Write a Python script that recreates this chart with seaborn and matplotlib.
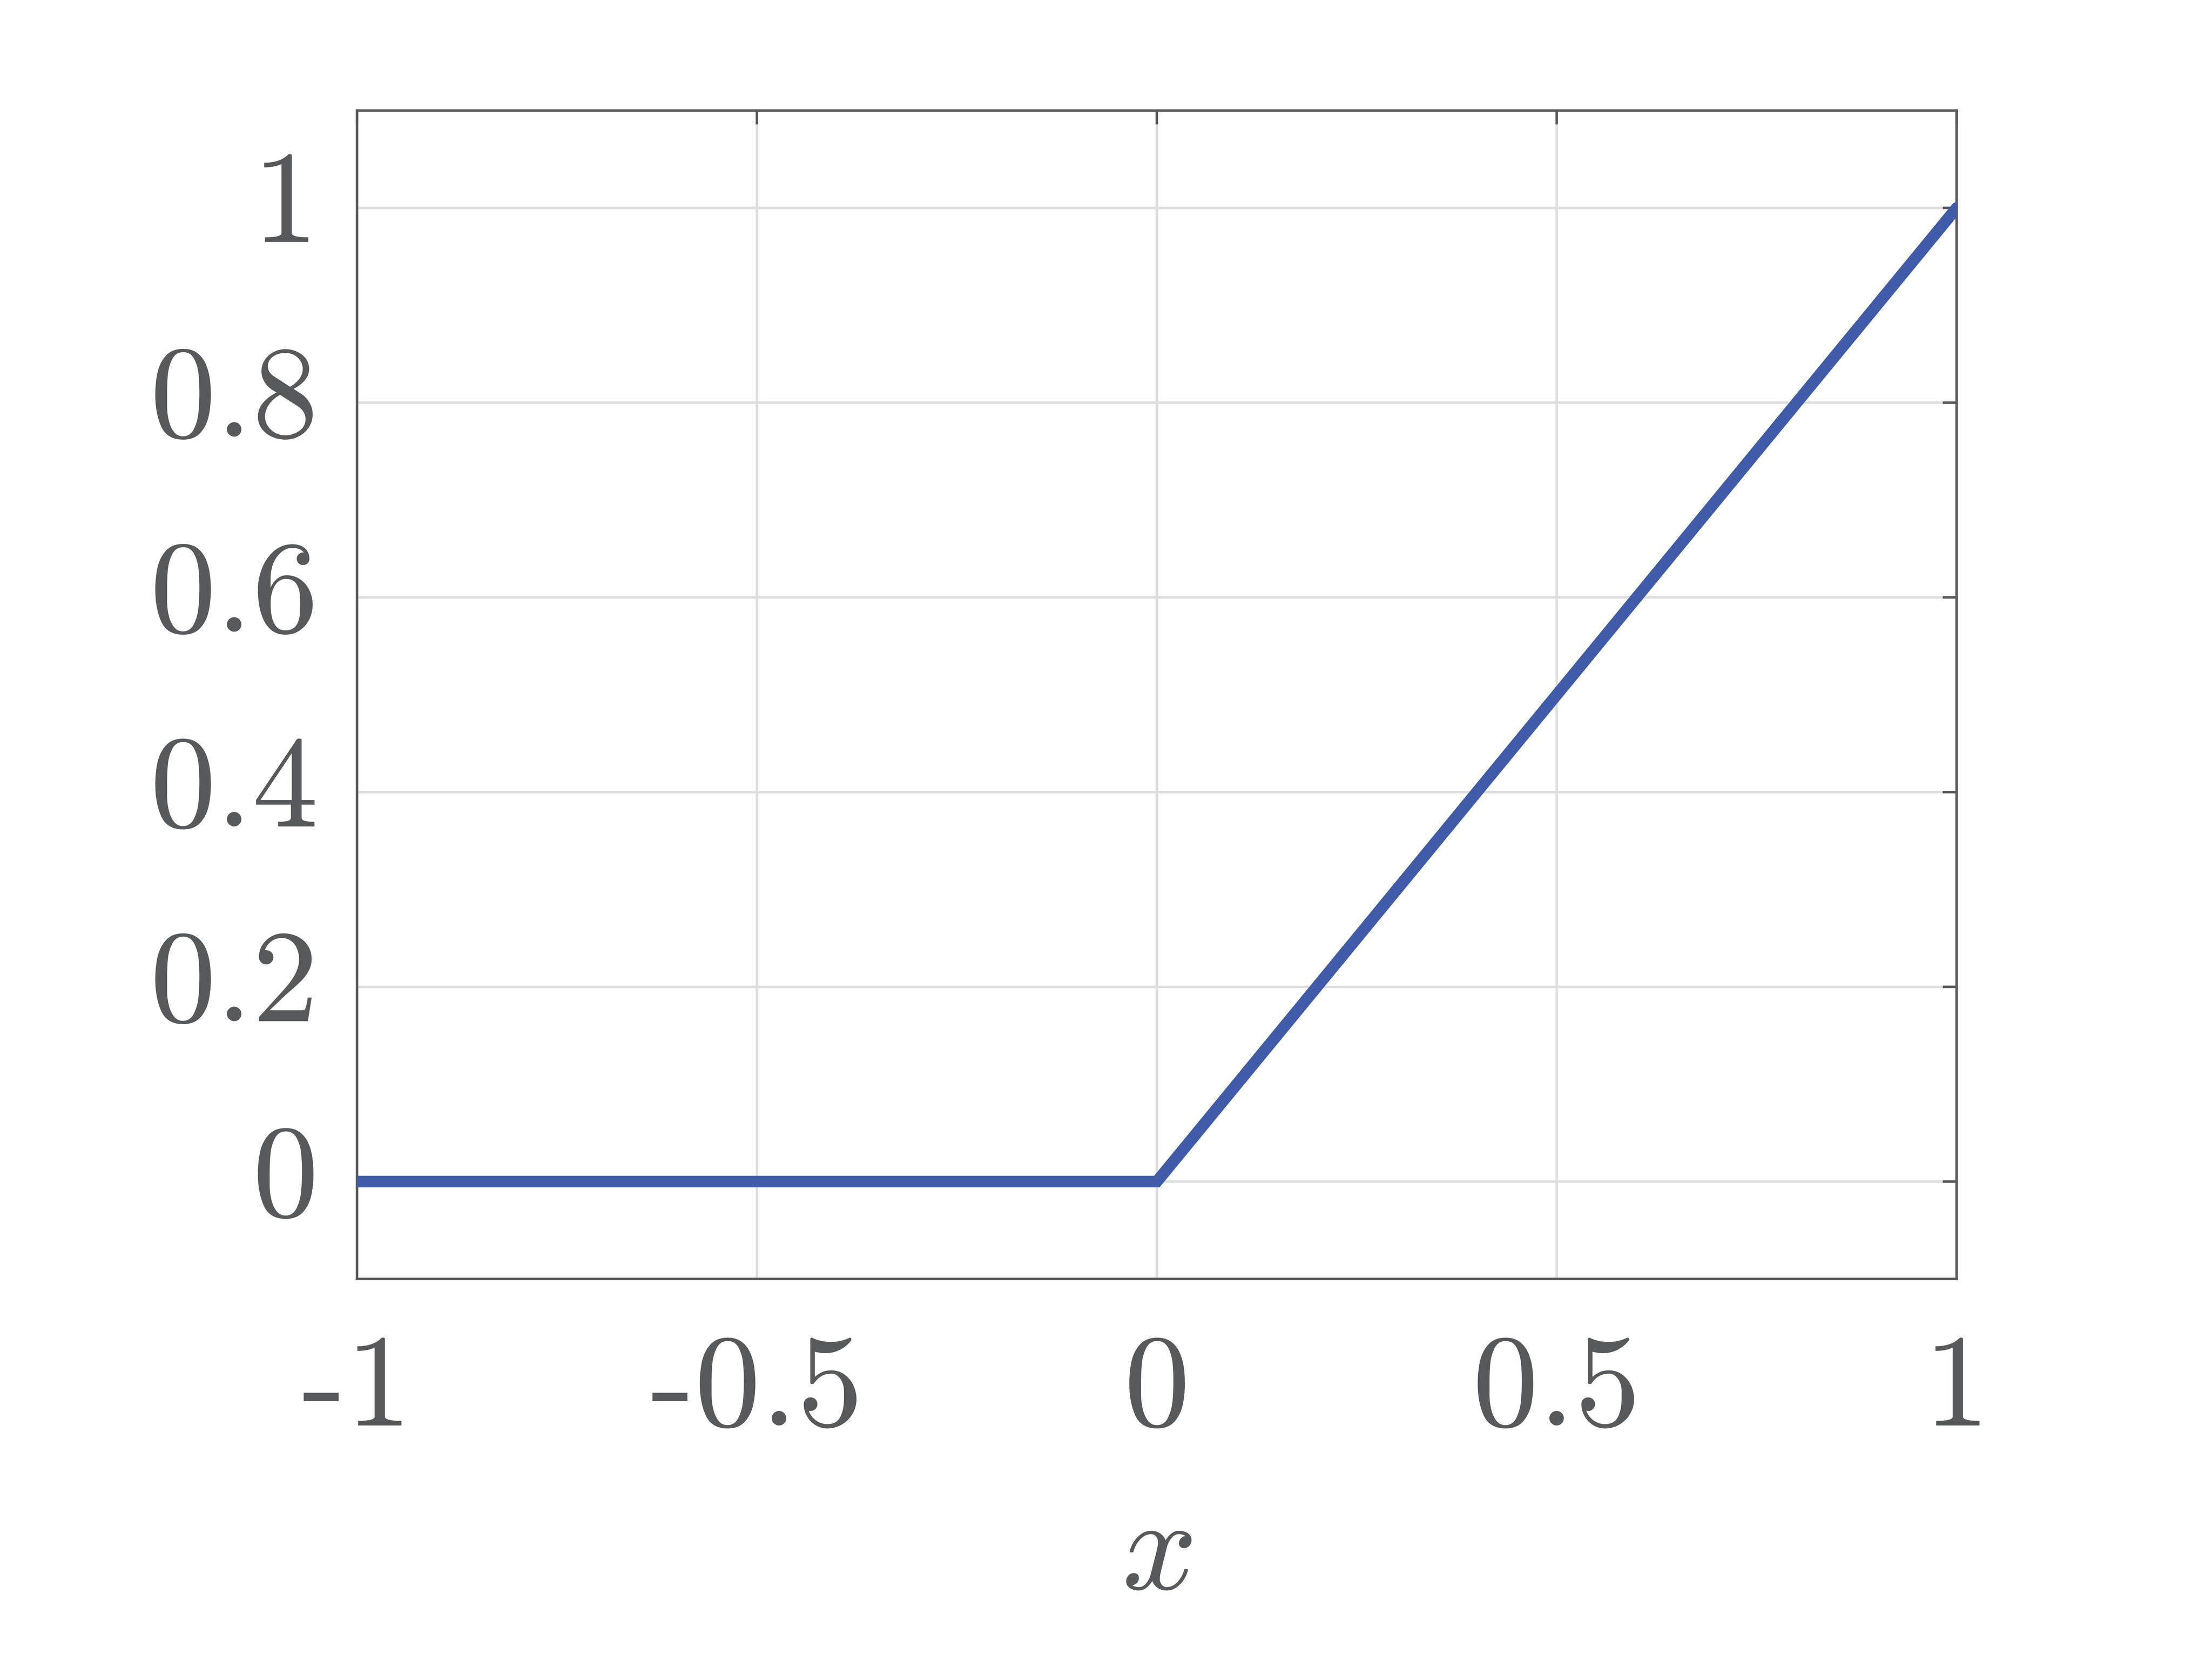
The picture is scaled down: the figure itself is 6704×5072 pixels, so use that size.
import numpy as np
import pandas as pd
import matplotlib
matplotlib.use("Agg")
import matplotlib.pyplot as plt
import matplotlib.transforms as mtransforms
import seaborn as sns

# ReLU sampled at its breakpoints
x_vals = [-1.0, 0.0, 1.0]
y_vals = [0.0, 0.0, 1.0]
x_ticks = [-1, -0.5, 0, 0.5, 1]
x_tick_labels = ["-1", "-0.5", "0", "0.5", "1"]
y_ticks = [0, 0.2, 0.4, 0.6, 0.8, 1]
y_tick_labels = ["0", "0.2", "0.4", "0.6", "0.8", "1"]

TEXT_GRAY = '#58595b'
LINE_BLUE = '#405ca8'

sns.set_theme(style="white")
plt.rcParams.update({
    'font.family': ['cmr10', 'DejaVu Serif'],
    'mathtext.fontset': 'cm',
    'axes.unicode_minus': False,
    'axes.formatter.use_mathtext': True,
})

df = pd.DataFrame({"x": x_vals, "y": y_vals})

fig = plt.figure(figsize=(6704 / 600, 5072 / 600), dpi=600)
ax = fig.add_axes([0.1614, 0.236, 0.7232, 0.698])

sns.lineplot(data=df, x="x", y="y", ax=ax, color=LINE_BLUE, linewidth=4.2,
             solid_joinstyle='miter', zorder=3)

ax.set_xlim(-1, 1)
ax.set_ylim(-0.1, 1.1)
ax.set_xticks(x_ticks)
ax.set_xticklabels(x_tick_labels)
ax.set_yticks(y_ticks)
ax.set_yticklabels(y_tick_labels)

ax.grid(True, color='#dedede', linewidth=0.9, zorder=0)
for side in ['top', 'bottom', 'left', 'right']:
    ax.spines[side].set_visible(True)
    ax.spines[side].set_color(TEXT_GRAY)
    ax.spines[side].set_linewidth(0.9)

ax.tick_params(axis='both', direction='in', length=5, width=0.9, color=TEXT_GRAY,
               labelcolor=TEXT_GRAY, labelsize=48, top=True, right=True)
ax.tick_params(axis='x', pad=20)
ax.tick_params(axis='y', pad=14)

# nudge y tick labels up a little, like the original
shift = mtransforms.ScaledTranslation(0, 4.2 / 72, fig.dpi_scale_trans)
for lbl in ax.get_yticklabels():
    lbl.set_transform(lbl.get_transform() + shift)

ax.set_xlabel(r"$x$", fontsize=48, color=TEXT_GRAY, labelpad=17)
ax.set_ylabel("")

fig.savefig("out.png", dpi=600, facecolor='white')
plt.close(fig)
